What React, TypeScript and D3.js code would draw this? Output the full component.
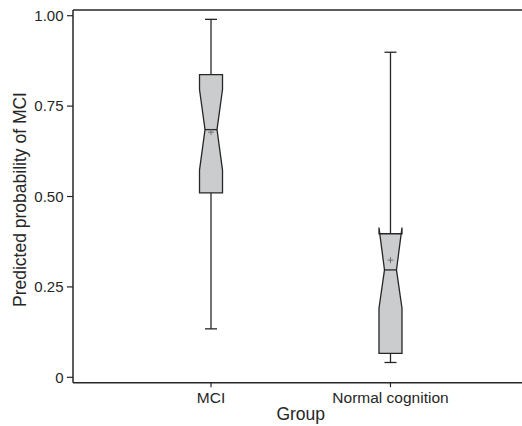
import React from "react";
import * as d3 from "d3";

const groups = ["MCI", "Normal cognition"];
const whiskerLow = [0.134, 0.041];
const q1 = [0.51, 0.066];
const notchLow = [0.573, 0.191];
const median = [0.685, 0.297];
const notchHigh = [0.796, 0.414];
const q3 = [0.837, 0.397];
const whiskerHigh = [0.99, 0.899];
const means = [0.678, 0.324];
const yTicks = [0, 0.25, 0.5, 0.75, 1];
const yTickLabels = ["0", "0.25", "0.50", "0.75", "1.00"];
const xTitle = "Group";
const yTitle = "Predicted probability of MCI";

const W = 522;
const H = 426;
const left = 73;
const right = 528.5;
const top = 10;
const bottom = 382.7;
const font = "'Liberation Sans', Arial, Helvetica, sans-serif";
const ink = "#262626";

export default function App() {
  const x = d3.scalePoint<string>().domain(groups).range([left, right]).padding(0.769);
  const y = d3.scaleLinear().domain([-0.0149, 1.0158]).range([bottom, top]);
  const hw = 11.5;
  const inset = 5.5;
  const cap = 6;

  return (
    <svg width={W} height={H} style={{ position: "absolute", left: 0, top: 0, background: "#fff" }} fontFamily={font}>
      <defs>
        {groups.map((g, i) => (
          <clipPath id={`clip${i}`} key={g}>
            <rect x={0} y={y(q3[i])} width={W} height={y(q1[i]) - y(q3[i])} />
          </clipPath>
        ))}
      </defs>
      {/* frame */}
      <line x1={left} x2={W} y1={top} y2={top} stroke={ink} strokeWidth={1.5} />
      <line x1={left} x2={W} y1={bottom} y2={bottom} stroke={ink} strokeWidth={1.5} />
      <line x1={left} x2={left} y1={top} y2={bottom} stroke={ink} strokeWidth={1.5} />
      {/* y ticks */}
      {yTicks.map((t, i) => (
        <g key={t}>
          <line x1={left - 6} x2={left} y1={y(t)} y2={y(t)} stroke={ink} strokeWidth={1.2} />
          <text x={63.5} y={y(t) + 5.3} textAnchor="end" fontSize={15} fill={ink}>
            {yTickLabels[i]}
          </text>
        </g>
      ))}
      {/* x ticks */}
      {groups.map((g) => (
        <g key={g}>
          <line x1={x(g)} x2={x(g)} y1={bottom} y2={bottom + 4.5} stroke={ink} strokeWidth={1.2} />
          <text x={x(g)} y={403.3} textAnchor="middle" fontSize={15.5} fill={ink}>
            {g}
          </text>
        </g>
      ))}
      <text x={(left + right) / 2} y={420} textAnchor="middle" fontSize={17.5} fill={ink}>
        {xTitle}
      </text>
      <text
        transform={`translate(25.5, ${y(0.5) + 3}) rotate(-90)`}
        textAnchor="middle"
        fontSize={17.5}
        fill={ink}
      >
        {yTitle}
      </text>
      {/* boxes */}
      {groups.map((g, i) => {
        const cx = x(g) as number;
        const L = cx - hw;
        const R = cx + hw;
        const outline =
          `M${L},${y(q1[i])} L${L},${y(notchLow[i])} L${L + inset},${y(median[i])} L${L},${y(notchHigh[i])} L${L},${y(q3[i])} ` +
          `L${R},${y(q3[i])} L${R},${y(notchHigh[i])} L${R - inset},${y(median[i])} L${R},${y(notchLow[i])} L${R},${y(q1[i])} Z`;
        return (
          <g key={g}>
            <line x1={cx} x2={cx} y1={y(q3[i])} y2={y(whiskerHigh[i])} stroke={ink} strokeWidth={1.3} />
            <line x1={cx} x2={cx} y1={y(q1[i])} y2={y(whiskerLow[i])} stroke={ink} strokeWidth={1.3} />
            <line x1={cx - cap} x2={cx + cap} y1={y(whiskerHigh[i])} y2={y(whiskerHigh[i])} stroke={ink} strokeWidth={1.3} />
            <line x1={cx - cap} x2={cx + cap} y1={y(whiskerLow[i])} y2={y(whiskerLow[i])} stroke={ink} strokeWidth={1.3} />
            <path d={outline} fill="#cbcccd" stroke="none" clipPath={`url(#clip${i})`} />
            <path d={outline} fill="none" stroke={ink} strokeWidth={1.3} strokeLinejoin="miter" />
            <line x1={L + inset} x2={R - inset} y1={y(median[i])} y2={y(median[i])} stroke={ink} strokeWidth={1.3} />
            <line x1={cx - 3} x2={cx + 3} y1={y(means[i])} y2={y(means[i])} stroke="#666" strokeWidth={0.9} />
            <line x1={cx} x2={cx} y1={y(means[i]) - 3} y2={y(means[i]) + 3} stroke="#666" strokeWidth={0.9} />
          </g>
        );
      })}
    </svg>
  );
}
